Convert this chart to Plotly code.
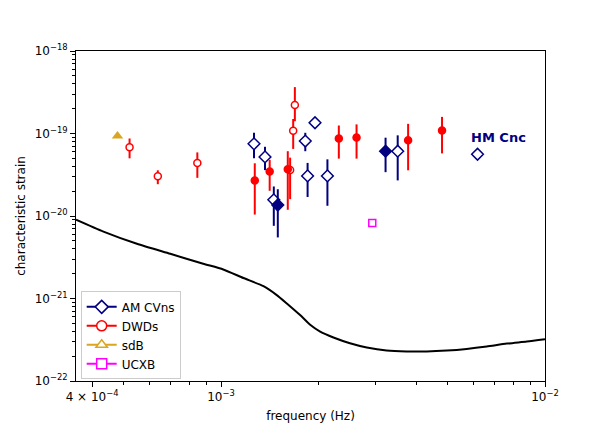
import numpy as np
import plotly.graph_objects as go

# sensitivity curve (frequency in Hz, characteristic strain)
curve_f = [3.567e-4, 4.335e-4, 5.50e-4, 6.97e-4, 8.81e-4, 1.016e-3, 1.172e-3, 1.352e-3,
           1.486e-3, 1.596e-3, 1.754e-3, 1.884e-3, 2.023e-3, 2.223e-3, 2.50e-3, 2.818e-3,
           3.243e-3, 3.74e-3, 4.315e-3, 4.977e-3, 5.73e-3, 6.61e-3, 7.62e-3, 8.79e-3, 1.0e-2]
curve_h = [9.02e-21, 6.47e-21, 4.60e-21, 3.48e-21, 2.64e-21, 2.25e-21, 1.77e-21, 1.41e-21,
           1.10e-21, 8.71e-22, 6.30e-22, 4.80e-22, 3.97e-22, 3.37e-22, 2.87e-22, 2.55e-22,
           2.34e-22, 2.28e-22, 2.28e-22, 2.34e-22, 2.45e-22, 2.62e-22, 2.84e-22, 3.01e-22, 3.21e-22]

# AM CVns, open symbols with error bars
amcvn_f = [1.264e-3, 1.367e-3, 1.455e-3, 1.82e-3, 1.85e-3, 2.13e-3, 3.51e-3]
amcvn_h = [7.5e-20, 5.2e-20, 1.57e-20, 8.1e-20, 3.06e-20, 3.06e-20, 6.1e-20]
amcvn_hi = [1.02e-19, 6.9e-20, 2.28e-20, 1.02e-19, 4.4e-20, 4.86e-20, 9.5e-20]
amcvn_lo = [5.0e-20, 3.6e-20, 7.6e-21, 6.1e-20, 1.7e-20, 1.33e-20, 2.7e-20]
# AM CVns without error bars (last one is HM Cnc)
amcvn_ne_f = [1.95e-3, 6.19e-3]
amcvn_ne_h = [1.35e-19, 5.6e-20]
# AM CVns, filled
amcvn_fill_f = [1.497e-3, 3.22e-3]
amcvn_fill_h = [1.36e-20, 6.1e-20]
amcvn_fill_hi = [2.11e-20, 8.9e-20]
amcvn_fill_lo = [5.5e-21, 3.4e-20]

# DWDs
dwd_f = [5.22e-4, 6.38e-4, 8.45e-4, 1.634e-3, 1.67e-3, 1.69e-3]
dwd_h = [6.8e-20, 3.03e-20, 4.4e-20, 3.6e-20, 1.08e-19, 2.22e-19]
dwd_hi = [8.7e-20, 3.58e-20, 5.9e-20, 5.1e-20, 1.5e-19, 3.65e-19]
dwd_lo = [5.0e-20, 2.43e-20, 2.9e-20, 1.6e-20, 6.5e-20, 1.41e-19]
dwd_fill_f = [1.271e-3, 1.413e-3, 1.607e-3, 2.31e-3, 2.62e-3, 3.78e-3, 4.81e-3]
dwd_fill_h = [2.7e-20, 3.46e-20, 3.68e-20, 8.7e-20, 8.95e-20, 8.3e-20, 1.09e-19]
dwd_fill_hi = [4.35e-20, 4.8e-20, 6.1e-20, 1.25e-19, 1.29e-19, 1.31e-19, 1.59e-19]
dwd_fill_lo = [1.04e-20, 2.02e-20, 1.19e-20, 4.96e-20, 4.96e-20, 3.58e-20, 5.74e-20]

sdb_f = [4.79e-4]
sdb_h = [9.3e-20]
ucxb_f = [2.93e-3]
ucxb_h = [8.2e-21]

xtick_vals = [4e-4, 1e-3, 1e-2]
xtick_text = ["4 × 10<sup>−4</sup>", "10<sup>−3</sup>", "10<sup>−2</sup>"]
ytick_vals = [1e-22, 1e-21, 1e-20, 1e-19, 1e-18]
ytick_text = ["10<sup>−22</sup>", "10<sup>−21</sup>", "10<sup>−20</sup>", "10<sup>−19</sup>", "10<sup>−18</sup>"]

NAVY = "#000080"
RED = "#ff0000"
GOLD = "#daa520"
MAG = "#ff00ff"


def errs(h, hi, lo):
    return np.array(hi) - np.array(h), np.array(h) - np.array(lo)


fig = go.Figure()

fig.add_trace(go.Scatter(x=curve_f, y=curve_h, mode="lines",
                         line=dict(color="black", width=2, shape="spline", smoothing=0.6),
                         showlegend=False))

up, dn = errs(amcvn_h, amcvn_hi, amcvn_lo)
fig.add_trace(go.Scatter(x=amcvn_f, y=amcvn_h, mode="markers", showlegend=False,
                         marker=dict(symbol="diamond", size=9, color="white",
                                     line=dict(color=NAVY, width=1.5)),
                         error_y=dict(type="data", symmetric=False, array=up, arrayminus=dn,
                                      color=NAVY, thickness=2, width=0)))
fig.add_trace(go.Scatter(x=amcvn_ne_f, y=amcvn_ne_h, mode="markers", showlegend=False,
                         marker=dict(symbol="diamond", size=9, color="white",
                                     line=dict(color=NAVY, width=1.5))))
up, dn = errs(amcvn_fill_h, amcvn_fill_hi, amcvn_fill_lo)
fig.add_trace(go.Scatter(x=amcvn_fill_f, y=amcvn_fill_h, mode="markers", showlegend=False,
                         marker=dict(symbol="diamond", size=9, color=NAVY,
                                     line=dict(color=NAVY, width=1.5)),
                         error_y=dict(type="data", symmetric=False, array=up, arrayminus=dn,
                                      color=NAVY, thickness=2, width=0)))

up, dn = errs(dwd_h, dwd_hi, dwd_lo)
fig.add_trace(go.Scatter(x=dwd_f, y=dwd_h, mode="markers", showlegend=False,
                         marker=dict(symbol="circle", size=7, color="white",
                                     line=dict(color=RED, width=1.5)),
                         error_y=dict(type="data", symmetric=False, array=up, arrayminus=dn,
                                      color=RED, thickness=2, width=0)))
up, dn = errs(dwd_fill_h, dwd_fill_hi, dwd_fill_lo)
fig.add_trace(go.Scatter(x=dwd_fill_f, y=dwd_fill_h, mode="markers", showlegend=False,
                         marker=dict(symbol="circle", size=7, color=RED,
                                     line=dict(color=RED, width=1.5)),
                         error_y=dict(type="data", symmetric=False, array=up, arrayminus=dn,
                                      color=RED, thickness=2, width=0)))

fig.add_trace(go.Scatter(x=sdb_f, y=sdb_h, mode="markers", showlegend=False,
                         marker=dict(symbol="triangle-up", size=10, color=GOLD)))
fig.add_trace(go.Scatter(x=ucxb_f, y=ucxb_h, mode="markers", showlegend=False,
                         marker=dict(symbol="square", size=7, color="white",
                                     line=dict(color=MAG, width=1.5))))

# legend entries
for name, col, sym in [("AM CVns", NAVY, "diamond"), ("DWDs", RED, "circle"),
                       ("sdB", GOLD, "triangle-up"), ("UCXB", MAG, "square")]:
    fig.add_trace(go.Scatter(x=[None], y=[None], mode="lines+markers", name=name,
                             line=dict(color=col, width=2),
                             marker=dict(symbol=sym, size=10, color="white",
                                         line=dict(color=col, width=1.5))))

fig.add_annotation(x=np.log10(7.16e-3), y=np.log10(8.95e-20), xref="x", yref="y",
                   text="<b>HM Cnc</b>", showarrow=False,
                   font=dict(size=13, color=NAVY))

minor_x = [m * 10.0 ** e for e in (-4, -3) for m in range(2, 10)]
minor_x = [v for v in minor_x if 3.6e-4 < v < 1e-2 and v != 4e-4]
minor_y = [m * 10.0 ** e for e in (-22, -21, -20, -19) for m in range(2, 10)]

axis_common = dict(type="log", showgrid=False, zeroline=False, showline=True,
                   linecolor="black", linewidth=1, mirror=True, ticks="outside",
                   ticklen=5, tickwidth=1, tickcolor="black",
                   tickfont=dict(size=12, color="black"))

fig.update_xaxes(range=[np.log10(3.567e-4), -2], tickvals=xtick_vals, ticktext=xtick_text,
                 title=dict(text="frequency (Hz)", font=dict(size=12), standoff=8),
                 minor=dict(tickvals=minor_x, ticks="outside", ticklen=3,
                            tickcolor="black", tickwidth=0.8),
                 **axis_common)
fig.update_yaxes(range=[-22, -18], tickvals=ytick_vals, ticktext=ytick_text,
                 title=dict(text="characteristic strain", font=dict(size=12), standoff=6),
                 minor=dict(tickvals=minor_y, ticks="outside", ticklen=3,
                            tickcolor="black", tickwidth=0.8),
                 **axis_common)

fig.update_layout(
    width=606, height=433,
    margin=dict(l=76, r=61, t=51, b=50),
    paper_bgcolor="white", plot_bgcolor="white",
    font=dict(family="DejaVu Sans", size=12, color="black"),
    legend=dict(x=0.01, y=0.005, xanchor="left", yanchor="bottom",
                bgcolor="white", bordercolor="#cccccc", borderwidth=1,
                font=dict(size=12), tracegroupgap=0, itemwidth=30),
)

# drop the page's default body margin so the figure sits at the window's corner
fig.write_html("out.html", config={"displayModeBar": False},
               post_script="document.body.style.margin = '0';")
